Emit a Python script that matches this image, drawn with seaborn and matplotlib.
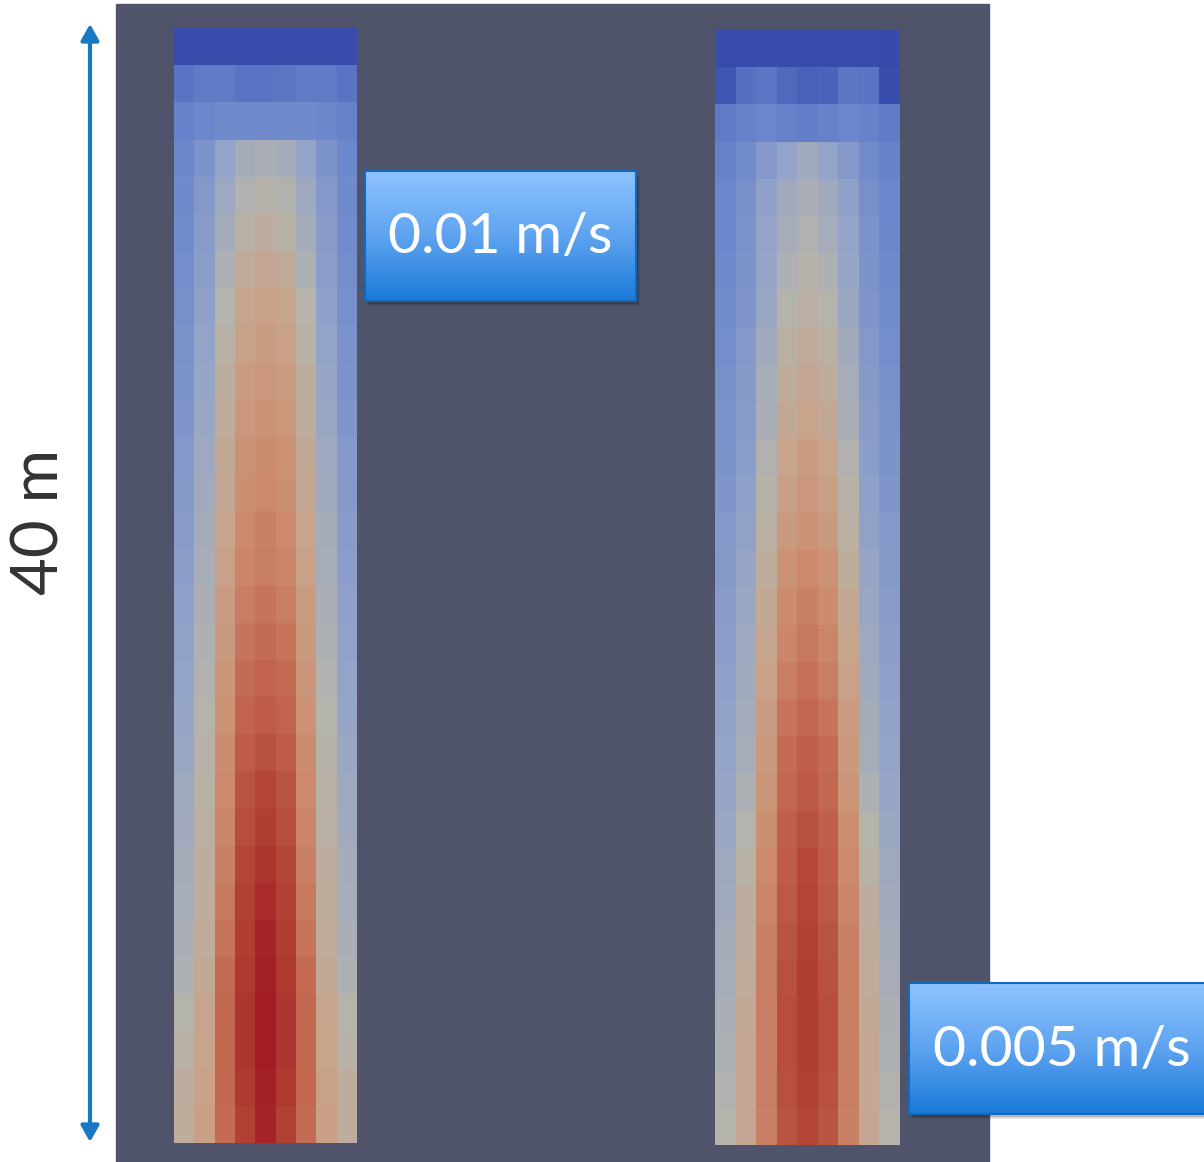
import numpy as np
import matplotlib
matplotlib.use("Agg")
import matplotlib.pyplot as plt
import seaborn as sns
from matplotlib.colors import LinearSegmentedColormap
from matplotlib.patches import Rectangle

# ---------------- data (normalised field value, 0 = cold/blue, 1 = hot/red) ----------------
# 30 rows from top to bottom, 9 lateral cells across each 40 m column
left_field = [
    [0.07, 0.07, 0.08, 0.08, 0.08, 0.08, 0.08, 0.07, 0.07],
    [0.20, 0.22, 0.22, 0.20, 0.20, 0.21, 0.22, 0.22, 0.20],
    [0.24, 0.26, 0.27, 0.27, 0.27, 0.27, 0.27, 0.26, 0.24],
    [0.26, 0.32, 0.40, 0.45, 0.47, 0.45, 0.40, 0.32, 0.26],
    [0.27, 0.34, 0.43, 0.49, 0.51, 0.49, 0.43, 0.34, 0.27],
    [0.28, 0.36, 0.45, 0.52, 0.54, 0.52, 0.45, 0.36, 0.28],
    [0.29, 0.37, 0.48, 0.56, 0.58, 0.56, 0.48, 0.37, 0.29],
    [0.30, 0.38, 0.50, 0.59, 0.61, 0.59, 0.50, 0.38, 0.30],
    [0.31, 0.40, 0.52, 0.61, 0.63, 0.61, 0.52, 0.40, 0.31],
    [0.32, 0.41, 0.54, 0.63, 0.65, 0.63, 0.54, 0.41, 0.32],
    [0.33, 0.42, 0.55, 0.65, 0.67, 0.65, 0.55, 0.42, 0.33],
    [0.34, 0.43, 0.57, 0.67, 0.69, 0.67, 0.57, 0.43, 0.34],
    [0.35, 0.44, 0.58, 0.68, 0.70, 0.68, 0.58, 0.44, 0.35],
    [0.36, 0.45, 0.60, 0.70, 0.72, 0.70, 0.60, 0.45, 0.36],
    [0.37, 0.46, 0.61, 0.71, 0.73, 0.71, 0.61, 0.46, 0.37],
    [0.38, 0.47, 0.63, 0.73, 0.75, 0.73, 0.63, 0.47, 0.38],
    [0.39, 0.48, 0.64, 0.75, 0.77, 0.75, 0.64, 0.48, 0.39],
    [0.40, 0.49, 0.66, 0.77, 0.79, 0.77, 0.66, 0.49, 0.40],
    [0.41, 0.50, 0.67, 0.79, 0.81, 0.79, 0.67, 0.50, 0.41],
    [0.42, 0.51, 0.69, 0.81, 0.84, 0.81, 0.69, 0.51, 0.42],
    [0.43, 0.52, 0.70, 0.83, 0.87, 0.83, 0.70, 0.52, 0.43],
    [0.44, 0.53, 0.71, 0.85, 0.89, 0.85, 0.71, 0.53, 0.44],
    [0.45, 0.54, 0.72, 0.87, 0.91, 0.87, 0.72, 0.54, 0.45],
    [0.46, 0.55, 0.74, 0.88, 0.93, 0.88, 0.74, 0.55, 0.46],
    [0.47, 0.56, 0.75, 0.89, 0.95, 0.89, 0.75, 0.56, 0.47],
    [0.48, 0.57, 0.77, 0.90, 0.96, 0.90, 0.77, 0.57, 0.48],
    [0.50, 0.59, 0.78, 0.91, 0.97, 0.91, 0.78, 0.59, 0.50],
    [0.52, 0.60, 0.78, 0.91, 0.97, 0.91, 0.78, 0.60, 0.52],
    [0.54, 0.61, 0.78, 0.90, 0.96, 0.90, 0.78, 0.61, 0.54],
    [0.55, 0.62, 0.77, 0.88, 0.95, 0.88, 0.77, 0.62, 0.55],
]

right_field = [
    [0.07, 0.07, 0.08, 0.08, 0.08, 0.08, 0.08, 0.07, 0.06],
    [0.12, 0.19, 0.21, 0.17, 0.15, 0.16, 0.21, 0.20, 0.08],
    [0.22, 0.24, 0.25, 0.24, 0.23, 0.24, 0.25, 0.24, 0.22],
    [0.24, 0.28, 0.34, 0.40, 0.44, 0.40, 0.34, 0.28, 0.24],
    [0.25, 0.30, 0.38, 0.44, 0.47, 0.44, 0.38, 0.30, 0.25],
    [0.26, 0.31, 0.40, 0.46, 0.49, 0.46, 0.40, 0.31, 0.26],
    [0.27, 0.32, 0.41, 0.48, 0.51, 0.48, 0.41, 0.32, 0.27],
    [0.28, 0.33, 0.42, 0.50, 0.53, 0.50, 0.42, 0.33, 0.28],
    [0.29, 0.34, 0.44, 0.53, 0.56, 0.53, 0.44, 0.34, 0.29],
    [0.30, 0.35, 0.46, 0.55, 0.58, 0.55, 0.46, 0.35, 0.30],
    [0.31, 0.36, 0.47, 0.57, 0.60, 0.57, 0.47, 0.36, 0.31],
    [0.32, 0.37, 0.49, 0.60, 0.63, 0.60, 0.49, 0.37, 0.32],
    [0.33, 0.38, 0.51, 0.62, 0.65, 0.62, 0.51, 0.38, 0.33],
    [0.34, 0.39, 0.53, 0.64, 0.67, 0.64, 0.53, 0.39, 0.34],
    [0.35, 0.41, 0.55, 0.67, 0.70, 0.67, 0.55, 0.41, 0.35],
    [0.36, 0.42, 0.57, 0.69, 0.72, 0.69, 0.57, 0.42, 0.36],
    [0.37, 0.43, 0.59, 0.71, 0.74, 0.71, 0.59, 0.43, 0.37],
    [0.38, 0.44, 0.61, 0.73, 0.76, 0.73, 0.61, 0.44, 0.38],
    [0.39, 0.45, 0.63, 0.75, 0.78, 0.75, 0.63, 0.45, 0.39],
    [0.40, 0.46, 0.64, 0.77, 0.80, 0.77, 0.64, 0.46, 0.40],
    [0.41, 0.48, 0.66, 0.78, 0.82, 0.78, 0.66, 0.48, 0.41],
    [0.42, 0.50, 0.68, 0.80, 0.84, 0.80, 0.68, 0.50, 0.42],
    [0.43, 0.52, 0.70, 0.81, 0.86, 0.81, 0.70, 0.52, 0.43],
    [0.44, 0.54, 0.71, 0.82, 0.87, 0.82, 0.71, 0.54, 0.44],
    [0.45, 0.55, 0.72, 0.83, 0.88, 0.83, 0.72, 0.55, 0.45],
    [0.46, 0.56, 0.73, 0.84, 0.89, 0.84, 0.73, 0.56, 0.46],
    [0.47, 0.57, 0.73, 0.85, 0.89, 0.85, 0.73, 0.57, 0.47],
    [0.48, 0.58, 0.73, 0.85, 0.89, 0.85, 0.73, 0.58, 0.48],
    [0.49, 0.58, 0.73, 0.84, 0.88, 0.84, 0.73, 0.58, 0.49],
    [0.50, 0.58, 0.72, 0.83, 0.87, 0.83, 0.72, 0.58, 0.50],
]

velocity_labels = ["0.01 m/s", "0.005 m/s"]
height_label = "40 m"

# ---------------- style ----------------
W, H = 1204, 1162
panel_color = "#50546b"
cmap = LinearSegmentedColormap.from_list(
    "paraview_cool_warm_shaded",
    [(0.00, "#34449e"), (0.10, "#3b4eb0"), (0.25, "#6a86cc"), (0.40, "#94a4c8"),
     (0.50, "#b4b4ad"), (0.60, "#c8a48c"), (0.70, "#cc8a6c"), (0.80, "#c0604a"),
     (0.90, "#ae3a30"), (1.00, "#9e1022")])

sns.set_theme(style="white")
plt.rcParams['font.family'] = ['Lato', 'DejaVu Sans']

fig = plt.figure(figsize=(W / 100, H / 100), dpi=100)
fig.patch.set_facecolor("white")

bg = fig.add_axes([0, 0, 1, 1])
bg.set_xlim(0, W)
bg.set_ylim(H, 0)
bg.axis("off")
bg.add_patch(Rectangle((116, 4), 873, 1158, color=panel_color, zorder=0))

def px_axes(x0, y0, x1, y1):
    return fig.add_axes([x0 / W, 1 - y1 / H, (x1 - x0) / W, (y1 - y0) / H])

for field, box in [(left_field, (174, 28, 357, 1143)), (right_field, (715, 30, 900, 1145))]:
    ax = px_axes(*box)
    sns.heatmap(np.array(field), ax=ax, cmap=cmap, vmin=0, vmax=1, cbar=False,
                xticklabels=False, yticklabels=False, linewidths=0)
    ax.set_xlabel("")
    ax.set_ylabel("")
    for s in ax.spines.values():
        s.set_visible(False)

# height arrow
bg.annotate("", xy=(90, 24), xytext=(90, 1142),
            arrowprops=dict(arrowstyle="<|-|>,head_length=0.8,head_width=0.45",
                            color="#1a78c2", lw=3, shrinkA=0, shrinkB=0))
bg.text(40, 522, height_label, rotation=90, fontsize=47, color="#333333",
        ha="center", va="center")

# velocity label boxes
grad = np.linspace(0, 1, 256).reshape(-1, 1)
box_cmap = LinearSegmentedColormap.from_list("boxgrad", ["#8ec3ff", "#5ea3f0", "#1a7ad8"])
for (x0, y0, x1, y1), label in zip([(365, 171, 636, 301), (909, 983, 1206, 1114)], velocity_labels):
    for k, a in [(5, 0.08), (4, 0.10), (3, 0.12)]:
        bg.add_patch(Rectangle((x0 + k - 1, y0 + k), x1 - x0, y1 - y0, color="black",
                               alpha=a, lw=0, zorder=2))
    bg.imshow(grad, extent=(x0, x1, y1, y0), cmap=box_cmap, aspect="auto", zorder=3)
    bg.add_patch(Rectangle((x0, y0), x1 - x0, y1 - y0, facecolor="none",
                           edgecolor="#1769b8", lw=1.5, zorder=4))
    bg.text((x0 + min(x1, 1204)) / 2 + (5 if x1 > 1204 else 0), (y0 + y1) / 2 + 2, label,
            fontsize=41, color="white", ha="center", va="center", zorder=5)

bg.set_xlim(0, W)
bg.set_ylim(H, 0)

fig.savefig("out.png", dpi=100)
